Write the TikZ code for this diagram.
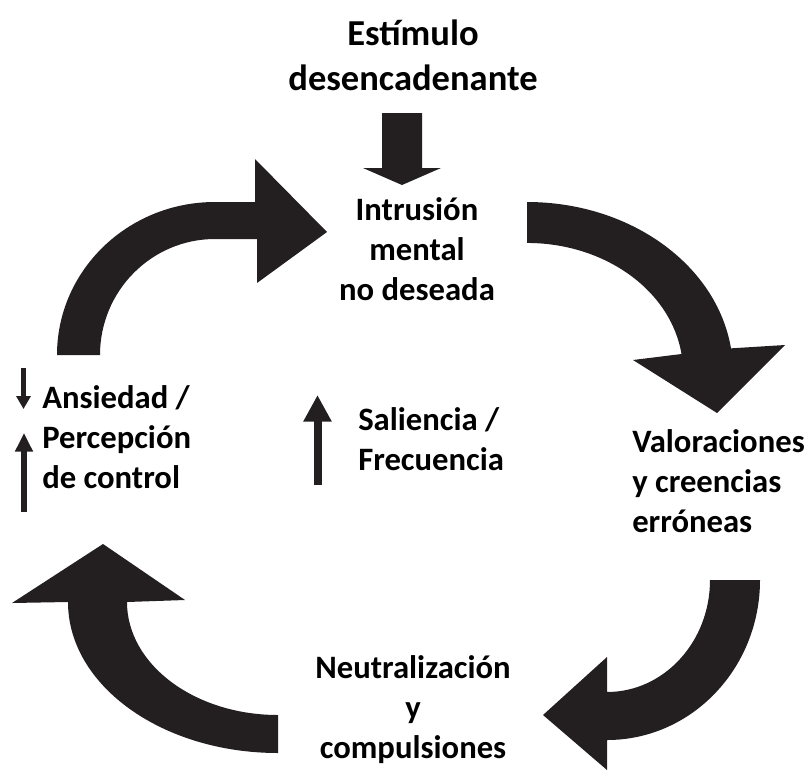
\documentclass[tikz,border=0pt]{standalone}
\usepackage{fontspec}
\setmainfont{Carlito}
\usetikzlibrary{arrows.meta}
\definecolor{flecha}{HTML}{231F20}
\tikzset{
  texto/.style={font=\bfseries\fontsize{24.5}{30}\selectfont, inner sep=0pt, align=center},
  bloque/.style={fill=flecha},
  fina/.style={draw=flecha, line width=#1},
}
\begin{document}
\begin{tikzpicture}[x=0.75pt, y=-0.75pt]
	\useasboundingbox (0,0) rectangle (810,772);
	% textos (base = ultima linea)
	\node (St) at (413,90) [texto, anchor=base, font=\bfseries\fontsize{27.4}{33.75}\selectfont] {Estímulo\\desencadenante};
	\node (In) at (417,300) [texto, anchor=base] {Intrusión\\mental\\no deseada};
	\node (Va) at (632,532) [texto, anchor=base west, align=left] {Valoraciones\\y creencias\\erróneas};
	\node (Ne) at (413,758) [texto, anchor=base] {Neutralización\\y\\compulsiones};
	\node (An) at (42,488) [texto, anchor=base west, align=left] {Ansiedad /\\Percepción\\de control};
	\node (Sa) at (358,470) [texto, anchor=base west, align=left] {Saliencia /\\Frecuencia};
	% flecha del estímulo
	\fill[bloque] (382,113) -- (422,113) -- (422,168) -- (441,168) -- (402,185) -- (363,168) -- (382,168) -- cycle;
	% ciclo
	\fill[bloque] (57,355) arc[start angle=180, end angle=270, x radius=158, y radius=153]
		-- (255,202) -- (255,159) -- (327,232) -- (257,283) -- (257,239) -- (215,239)
		arc[start angle=270, end angle=180, x radius=115, y radius=116] -- cycle;
	\fill[bloque] (527,202) arc[start angle=270, end angle=352, x radius=206, y radius=170]
		-- (785,345) -- (717,413) -- (633,360) -- (681.5,354)
		arc[start angle=352, end angle=270, x radius=156, y radius=129] -- cycle;
	\fill[bloque] (760,580) arc[start angle=0, end angle=90, x radius=153, y radius=160]
		-- (607,770) -- (543,715) -- (607,657) -- (607,692)
		arc[start angle=90, end angle=0, x radius=103, y radius=112] -- cycle;
	\fill[bloque] (278,753) arc[start angle=90, end angle=180, x radius=210, y radius=151]
		-- (12,603) -- (103,544) -- (185,600) -- (127,602)
		arc[start angle=180, end angle=90, x radius=151, y radius=113] -- cycle;
	% flechas finas
	\coordinate (d1) at (23.5,368);
	\coordinate (d2) at (23.5,409);
	\coordinate (u1) at (24,512);
	\coordinate (u2) at (24,433);
	\coordinate (s1) at (317.5,485);
	\coordinate (s2) at (317.5,395);
	\draw[fina=3.75pt, -{Triangle[width=10.5pt, length=9.75pt]}] (d1) -- (d2);
	\draw[fina=4.5pt, -{Triangle[width=12.75pt, length=14pt]}] (u1) -- (u2);
	\draw[fina=6pt, -{Triangle[width=20pt, length=20pt]}] (s1) -- (s2);
\end{tikzpicture}
\end{document}
